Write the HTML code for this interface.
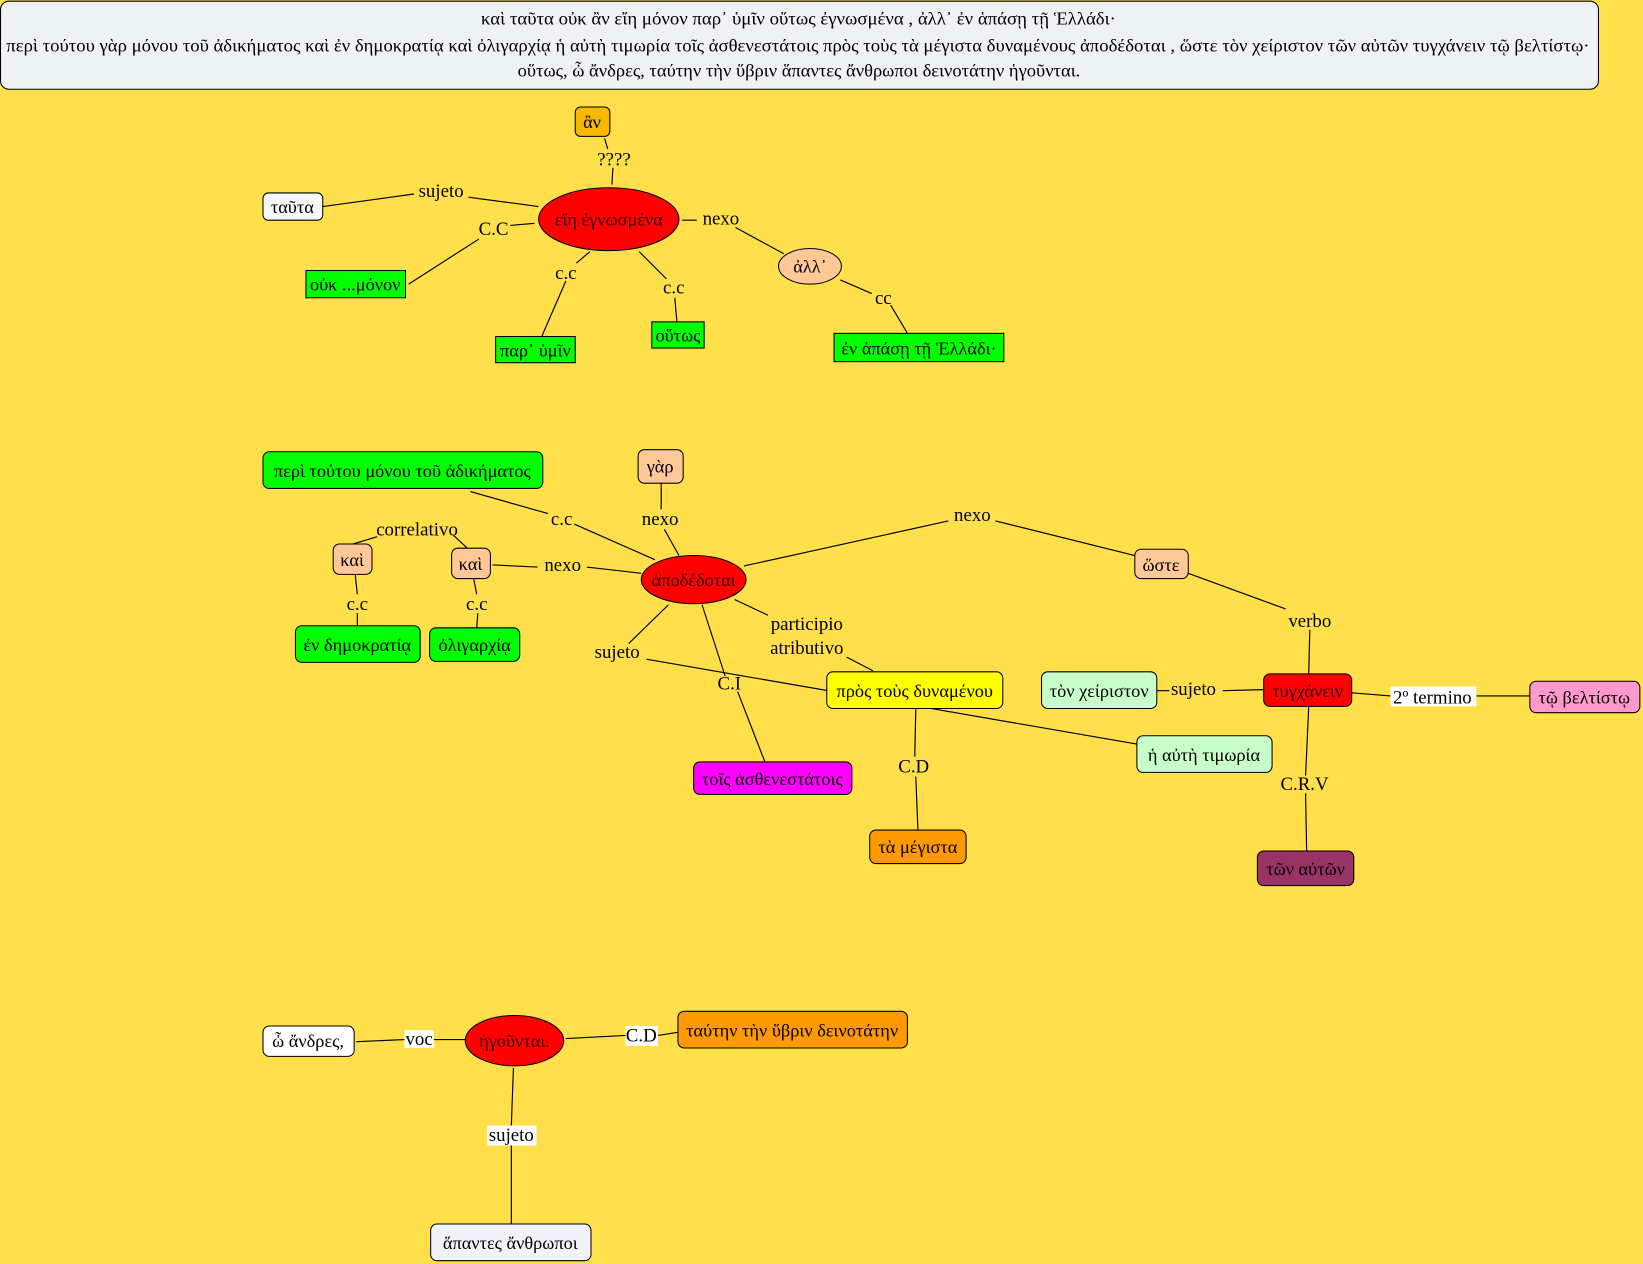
<!DOCTYPE html>
<html><head><meta charset="utf-8"><style>
html,body{margin:0;padding:0;background:#ffe04b;width:1643px;height:1264px;overflow:hidden}
svg{display:block}
text{font-family:"Liberation Serif","DejaVu Serif",serif;font-size:17.5px;fill:#000}
.l{font-size:18px}
.t{font-size:17px}
.r{fill:#300}
</style></head><body>
<svg width="1643" height="1264" viewBox="0 0 1568 1206" xmlns="http://www.w3.org/2000/svg">
<rect width="1568" height="1206" fill="#ffe04b"/>
<g stroke="#000" stroke-width="1.1" fill="none">
<line x1="308" y1="197" x2="395" y2="185"/><line x1="447" y1="188" x2="514" y2="197"/>
<line x1="390" y1="271" x2="457" y2="228"/><line x1="487" y1="215" x2="510" y2="213"/>
<line x1="540" y1="268" x2="517" y2="321"/><line x1="550" y1="251" x2="563" y2="240"/>
<line x1="610" y1="240" x2="636" y2="266"/><line x1="644" y1="284" x2="646" y2="307"/>
<line x1="651" y1="210" x2="665" y2="210"/><line x1="702" y1="217" x2="748" y2="242"/>
<line x1="802" y1="267" x2="832" y2="280"/><line x1="850" y1="291" x2="866" y2="318"/>
<line x1="577" y1="132" x2="580" y2="142"/><line x1="585" y1="160" x2="584" y2="176"/>
<line x1="337" y1="519" x2="360" y2="512"/><line x1="433" y1="511" x2="446" y2="523"/>
<line x1="449" y1="469" x2="523" y2="490"/><line x1="548" y1="500" x2="625" y2="534"/>
<line x1="631" y1="461" x2="631" y2="486"/><line x1="634" y1="505" x2="648" y2="530"/>
<line x1="470" y1="539" x2="513" y2="541"/><line x1="560" y1="541" x2="612" y2="547"/>
<line x1="339" y1="548" x2="341" y2="567"/><line x1="341" y1="585" x2="341" y2="597"/>
<line x1="452" y1="552" x2="455" y2="567"/><line x1="456" y1="585" x2="455" y2="599"/>
<line x1="710" y1="540" x2="905" y2="497"/><line x1="950" y1="497" x2="1083" y2="530"/>
<line x1="1134" y1="547" x2="1227" y2="581"/><line x1="1250" y1="601" x2="1249" y2="643"/>
<line x1="638" y1="577" x2="600" y2="614"/><line x1="617" y1="629" x2="1085" y2="710"/>
<line x1="701" y1="572" x2="733" y2="587"/><line x1="808" y1="627" x2="833" y2="640"/>
<line x1="670" y1="577" x2="692" y2="645"/><line x1="704" y1="660" x2="730" y2="727"/>
<line x1="874" y1="676" x2="873" y2="722"/><line x1="874" y1="741" x2="876" y2="792"/>
<line x1="1104" y1="659" x2="1116" y2="659"/><line x1="1167" y1="659" x2="1206" y2="658"/>
<line x1="1290" y1="661" x2="1327" y2="664"/><line x1="1409" y1="664" x2="1460" y2="664"/>
<line x1="1249" y1="674" x2="1246" y2="740"/><line x1="1246" y1="757" x2="1247" y2="812"/>
<line x1="340" y1="994" x2="386" y2="992"/><line x1="414" y1="992" x2="444" y2="992"/>
<line x1="540" y1="991" x2="597" y2="988"/><line x1="628" y1="988" x2="647" y2="985"/>
<line x1="490" y1="1019" x2="488" y2="1074"/><line x1="488" y1="1093" x2="488" y2="1168"/>
</g>
<g stroke="#000" stroke-width="1">
<rect x="0.5" y="1" width="1525" height="84" rx="8" fill="#edf3f5"/>
<rect x="549" y="102" width="33" height="28" rx="5" fill="#f9b800"/>
<rect x="251" y="184" width="57" height="26" rx="5" fill="#f4f6f8"/>
<ellipse cx="581" cy="209" rx="67" ry="30" fill="#ff0000"/>
<rect x="292" y="258" width="95" height="26" fill="#00ff00"/>
<rect x="473" y="321" width="76" height="25" fill="#00ff00"/>
<rect x="622" y="307" width="50" height="25" fill="#00ff00"/>
<ellipse cx="773" cy="254" rx="30" ry="17" fill="#ffc896"/>
<rect x="796" y="318" width="162" height="27" fill="#00ff00"/>
<rect x="251" y="431" width="267" height="35" rx="6" fill="#00ff00"/>
<rect x="609" y="429" width="43" height="32" rx="6" fill="#ffc896"/>
<rect x="318" y="519" width="37" height="29" rx="6" fill="#ffc896"/>
<rect x="431" y="523" width="37" height="29" rx="6" fill="#ffc896"/>
<ellipse cx="662" cy="553" rx="50" ry="23" fill="#ff0000"/>
<rect x="1083" y="524" width="51" height="28" rx="6" fill="#ffc896"/>
<rect x="282" y="597" width="119" height="35" rx="6" fill="#00ff00"/>
<rect x="410" y="599" width="86" height="32" rx="6" fill="#00ff00"/>
<rect x="789" y="641" width="168" height="35" rx="6" fill="#ffff00"/>
<rect x="994" y="641" width="110" height="35" rx="6" fill="#c8ffc8"/>
<rect x="1206" y="643" width="84" height="31" rx="6" fill="#ff0000"/>
<rect x="1460" y="650" width="105" height="30" rx="6" fill="#ff99cc"/>
<rect x="1085" y="702" width="129" height="35" rx="6" fill="#c8ffc8"/>
<rect x="662" y="727" width="151" height="31" rx="6" fill="#ff00ff"/>
<rect x="830" y="792" width="92" height="32" rx="6" fill="#ff9900"/>
<rect x="1200" y="812" width="92" height="33" rx="6" fill="#993366"/>
<rect x="251" y="979" width="87" height="29" rx="6" fill="#ffffff"/>
<ellipse cx="491" cy="993" rx="47" ry="24" fill="#ff0000"/>
<rect x="647" y="965" width="219" height="35" rx="6" fill="#ff9900"/>
<rect x="411" y="1168" width="153" height="35" rx="6" fill="#f0f4f8"/>
</g>
<g fill="#fff">
<rect x="1327" y="655" width="82" height="19"/>
<rect x="386" y="983" width="28" height="17"/>
<rect x="597" y="979" width="31" height="19"/>
<rect x="465" y="1074" width="47" height="19"/>
</g>
<text class="t" x="459" y="23" textLength="606" lengthAdjust="spacingAndGlyphs">καὶ ταῦτα οὐκ ἂν εἴη μόνον  παρ᾽ ὑμῖν οὕτως ἐγνωσμένα , ἀλλ᾽ ἐν ἁπάσῃ τῇ Ἑλλάδι·</text>
<text class="t" x="6" y="49" textLength="1511" lengthAdjust="spacingAndGlyphs">περὶ τούτου γὰρ μόνου τοῦ ἀδικήματος καὶ ἐν δημοκρατίᾳ καὶ ὀλιγαρχίᾳ ἡ αὐτὴ τιμωρία τοῖς ἀσθενεστάτοις πρὸς τοὺς τὰ μέγιστα δυναμένους  ἀποδέδοται , ὥστε  τὸν χείριστον τῶν αὐτῶν τυγχάνειν τῷ βελτίστῳ·</text>
<text class="t" x="494" y="73" textLength="537" lengthAdjust="spacingAndGlyphs">οὕτως, ὦ ἄνδρες, ταύτην τὴν ὕβριν ἅπαντες ἄνθρωποι δεινοτάτην ἡγοῦνται.</text>
<g text-anchor="middle">
<text x="565" y="122">ἂν</text>
<text x="279" y="203">ταῦτα</text>
<text class="r" x="581" y="215">εἴη ἐγνωσμένα</text>
<text x="339" y="277">οὐκ ...μόνον</text>
<text x="511" y="340">παρ᾽ ὑμῖν</text>
<text x="647" y="326">οὕτως</text>
<text x="773" y="260">ἀλλ᾽</text>
<text x="877" y="338">ἐν ἁπάσῃ τῇ Ἑλλάδι·</text>
<text x="384" y="455">περὶ τούτου  μόνου τοῦ ἀδικήματος</text>
<text x="630" y="451">γὰρ</text>
<text x="336" y="540">καὶ</text>
<text x="449" y="544">καὶ</text>
<text class="r" x="662" y="559">ἀποδέδοται</text>
<text x="1108" y="545">ὥστε</text>
<text x="341" y="621">ἐν δημοκρατίᾳ</text>
<text x="453" y="621">ὀλιγαρχίᾳ</text>
<text x="873" y="665">πρὸς τοὺς  δυναμένου</text>
<text x="1049" y="665">τὸν χείριστον</text>
<text class="r" x="1248" y="665">τυγχάνειν</text>
<text x="1512" y="671">τῷ βελτίστῳ</text>
<text x="1149" y="726">ἡ αὐτὴ τιμωρία</text>
<text x="737" y="749">τοῖς ἀσθενεστάτοις</text>
<text x="876" y="814">τὰ μέγιστα</text>
<text x="1246" y="835">τῶν αὐτῶν</text>
<text x="294" y="999">ὦ ἄνδρες,</text>
<text class="r" x="491" y="999">ἡγοῦνται.</text>
<text x="756" y="989">ταύτην τὴν ὕβριν δεινοτάτην</text>
<text x="487" y="1192">ἅπαντες ἄνθρωποι</text>
<text class="l" x="586" y="158">????</text>
<text class="l" x="421" y="188">sujeto</text>
<text class="l" x="471" y="224">C.C</text>
<text class="l" x="540" y="266">c.c</text>
<text class="l" x="643" y="280">c.c</text>
<text class="l" x="688" y="214">nexo</text>
<text class="l" x="843" y="290">cc</text>
<text class="l" x="398" y="511">correlativo</text>
<text class="l" x="536" y="501">c.c</text>
<text class="l" x="630" y="501">nexo</text>
<text class="l" x="537" y="545">nexo</text>
<text class="l" x="341" y="582">c.c</text>
<text class="l" x="455" y="582">c.c</text>
<text class="l" x="928" y="497">nexo</text>
<text class="l" x="589" y="628">sujeto</text>
<text class="l" x="770" y="601">participio</text>
<text class="l" x="770" y="624">atributivo</text>
<text class="l" x="696" y="658">C.I</text>
<text class="l" x="1250" y="598">verbo</text>
<text class="l" x="1139" y="663">sujeto</text>
<text class="l" x="1367" y="671">2º termino</text>
<text class="l" x="872" y="737">C.D</text>
<text class="l" x="1245" y="754">C.R.V</text>
<text class="l" x="400" y="997">voc</text>
<text class="l" x="612" y="994">C.D</text>
<text class="l" x="488" y="1089">sujeto</text>
</g>
</svg>
</body></html>
